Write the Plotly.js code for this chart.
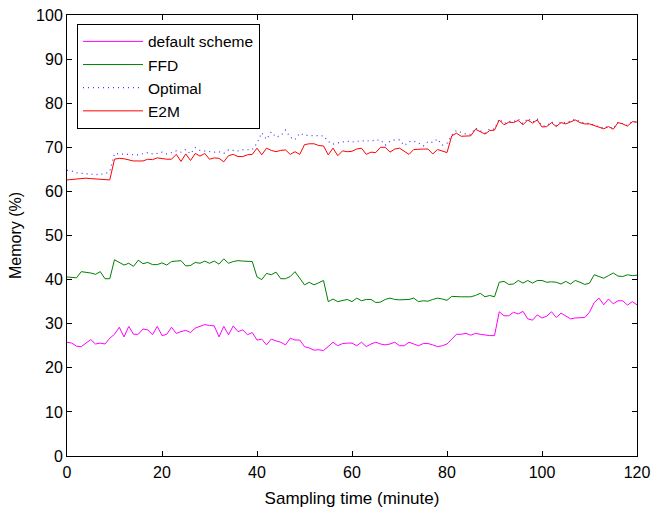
<!DOCTYPE html>
<html><head><meta charset="utf-8">
<script src="https://cdn.plot.ly/plotly-3.0.1.min.js"></script>
<style>html,body{margin:0;padding:0;background:#fff}#chart{width:651px;height:509px}</style>
</head><body><div id="chart"></div>
<script>
const minutes = Array.from({length: 121}, (_, i) => i);
const defaultScheme = [25.8,25.6,24.9,24.8,25.6,26.4,25.4,25.6,25.4,26.7,27.6,29.2,27.0,29.4,27.6,27.6,28.8,28.6,27.5,29.4,27.3,27.6,29.2,27.8,28.2,28.5,28.0,29.0,29.4,29.8,29.6,29.5,27.0,29.4,27.5,29.5,28.2,28.6,27.5,28.0,26.3,26.5,25.2,26.5,26.1,25.8,25.2,26.7,26.3,26.3,24.8,24.5,24.0,24.1,23.9,24.8,25.8,25.0,25.5,25.6,25.6,25.0,25.8,24.8,25.4,25.8,25.4,25.2,25.4,25.8,25.0,25.0,25.8,25.4,25.0,25.5,25.5,25.2,24.8,25.0,25.4,26.5,27.6,27.6,27.8,27.4,27.8,27.6,27.4,27.3,27.3,32.7,31.8,31.8,32.6,32.2,32.8,31.1,30.8,32.0,31.3,31.7,32.7,31.4,32.4,31.8,31.1,31.3,31.4,31.4,32.6,34.8,35.8,34.3,35.6,34.5,35.2,35.2,34.2,35.0,34.3];
const ffd = [40.6,40.5,40.4,41.8,41.7,41.5,41.2,41.8,40.2,40.2,44.5,43.8,43.3,43.7,43.0,44.4,43.6,43.9,43.4,43.4,43.8,43.3,44.1,44.2,44.3,43.1,43.2,43.9,43.7,44.2,43.7,44.2,43.5,44.7,43.7,44.1,44.3,44.2,44.2,44.1,40.6,40.0,41.4,41.1,41.7,40.2,40.2,40.7,41.8,40.4,38.8,39.4,38.8,39.3,39.8,35.0,35.6,35.0,35.2,35.5,35.0,35.8,35.2,35.5,35.5,34.8,34.9,35.5,35.8,35.5,35.4,35.4,35.5,35.8,35.0,35.2,35.1,35.5,35.8,35.6,35.3,36.2,36.1,36.1,36.1,36.1,36.4,36.9,36.1,36.4,36.1,39.4,39.6,38.9,39.0,39.8,39.2,39.8,39.2,39.8,39.8,39.4,39.5,39.4,39.0,39.6,39.0,39.8,39.4,38.9,39.2,41.1,40.7,40.3,40.9,41.5,40.8,40.7,41.1,40.9,41.0];
const optimal = [64.8,64.6,64.2,64.1,64.1,64.0,63.8,63.9,64.0,64.5,68.6,68.5,68.4,68.3,68.3,68.3,68.5,68.8,68.5,68.6,68.9,68.5,68.8,69.2,68.9,69.5,68.5,69.9,69.3,69.2,69.0,68.9,69.0,68.6,69.4,69.3,69.2,69.4,69.4,69.5,70.9,73.3,71.8,73.5,72.3,72.6,73.9,72.3,71.7,73.2,72.7,72.7,72.7,72.6,72.6,71.3,70.7,71.0,71.2,71.4,71.2,71.4,71.5,71.4,71.5,71.6,71.7,70.5,71.4,71.7,71.7,70.4,71.3,71.4,71.0,70.3,71.3,71.1,71.9,70.5,70.9,72.8,73.8,73.4,73.0,72.9,74.4,73.8,73.2,74.2,74.1,76.4,75.4,75.9,75.8,76.4,75.4,76.6,75.7,76.4,74.8,74.9,75.8,74.9,75.8,75.5,76.0,76.4,75.8,75.5,75.4,75.0,74.7,74.3,74.8,74.2,75.7,75.4,74.9,75.9,75.8];
const e2m = [62.6,62.7,62.8,62.9,63.0,62.9,62.8,62.8,62.7,62.6,67.3,67.5,67.4,67.2,66.9,66.9,66.9,67.3,67.2,67.6,67.4,67.3,67.3,68.4,66.8,68.5,67.0,68.6,68.0,68.6,67.3,67.6,67.5,66.7,68.1,68.4,67.9,67.9,68.3,68.4,69.8,68.3,69.8,69.3,69.0,69.3,69.4,68.4,69.0,68.4,70.6,70.8,70.8,70.4,70.3,68.3,69.8,68.1,69.2,69.0,69.1,69.6,69.8,68.4,68.9,68.8,70.0,70.0,68.9,69.6,69.8,69.0,68.4,69.5,69.6,69.6,69.6,68.5,69.5,69.1,68.8,72.6,73.2,72.5,72.5,72.6,74.1,73.5,73.0,73.8,73.9,76.2,75.1,75.7,75.6,76.1,75.1,76.2,75.5,76.2,74.6,74.7,75.6,74.7,75.6,75.3,75.8,76.2,75.6,75.3,75.3,74.9,74.6,74.2,74.7,74.1,75.6,75.3,74.8,75.8,75.7];
const seriesNames = ['default scheme', 'FFD', 'Optimal', 'E2M'];
const xTicks = [0, 20, 40, 60, 80, 100, 120];
const yTicks = [0, 10, 20, 30, 40, 50, 60, 70, 80, 90, 100];

const fam = 'Liberation Sans, Arial, Helvetica, sans-serif';
const tickFont = {family: fam, size: 16, color: '#000'};
const titleFont = {family: fam, size: 17, color: '#000'};
const legendFont = {family: fam, size: 15.5, color: '#000'};
const traces = [
  {x: minutes, y: defaultScheme, name: seriesNames[0], mode: 'lines', line: {color: '#ff00ff', width: 1}},
  {x: minutes, y: ffd, name: seriesNames[1], mode: 'lines', line: {color: '#008000', width: 1}},
  {x: minutes, y: optimal, name: seriesNames[2], mode: 'lines', line: {color: '#3a3aff', width: 1.2, dash: '1px,4px'}},
  {x: minutes, y: e2m, name: seriesNames[3], mode: 'lines', line: {color: '#ff0000', width: 1}}
];
const axisCommon = {
  showgrid: false, zeroline: false, showline: true, mirror: 'ticks', linecolor: '#000', linewidth: 1,
  ticks: 'inside', ticklen: 5, tickcolor: '#000', tickfont: tickFont
};
const layout = {
  width: 651, height: 509,
  margin: {l: 67, r: 14, t: 15, b: 53},
  paper_bgcolor: '#fff', plot_bgcolor: '#fff',
  font: tickFont,
  showlegend: true,
  legend: {x: 0.0175, y: 0.98, xanchor: 'left', yanchor: 'top', bgcolor: '#fff', bordercolor: '#000', borderwidth: 1,
           font: legendFont, itemwidth: 60, tracegroupgap: 0},
  xaxis: Object.assign({}, axisCommon, {range: [0, 120], tickvals: xTicks, ticktext: xTicks.map(String),
           ticklabelstandoff: 2,
           title: {text: 'Sampling time (minute)', font: titleFont, standoff: 11}}),
  yaxis: Object.assign({}, axisCommon, {range: [0, 100], tickvals: yTicks, ticktext: yTicks.map(String),
           title: {text: 'Memory (%)', font: {family: fam, size: 16, color: '#000'}, standoff: 10}})
};
Plotly.newPlot('chart', traces, layout, {staticPlot: true});
</script></body></html>
